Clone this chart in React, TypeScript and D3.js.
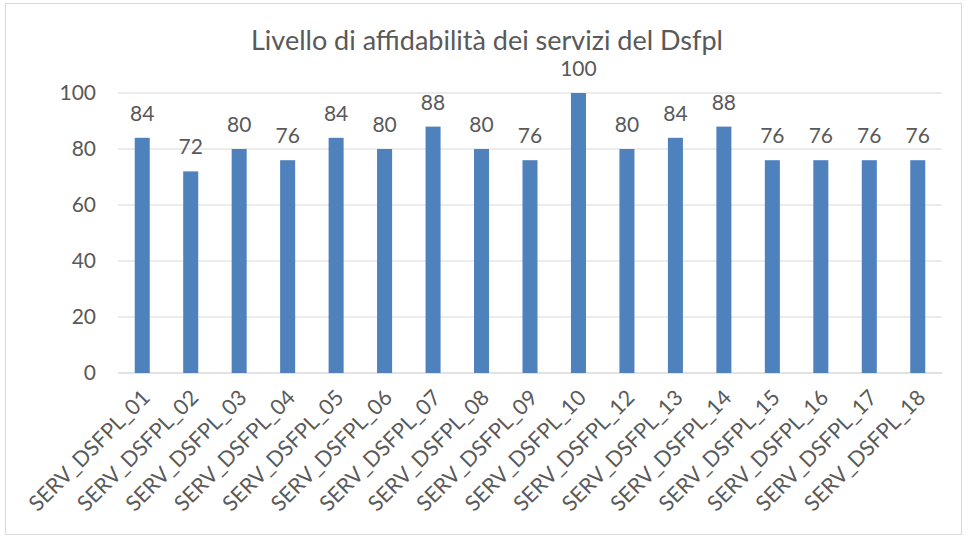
import React from "react";
import * as d3 from "d3";

const categories = [
  "SERV_DSFPL_01", "SERV_DSFPL_02", "SERV_DSFPL_03", "SERV_DSFPL_04", "SERV_DSFPL_05",
  "SERV_DSFPL_06", "SERV_DSFPL_07", "SERV_DSFPL_08", "SERV_DSFPL_09", "SERV_DSFPL_10",
  "SERV_DSFPL_12", "SERV_DSFPL_13", "SERV_DSFPL_14", "SERV_DSFPL_15", "SERV_DSFPL_16",
  "SERV_DSFPL_17", "SERV_DSFPL_18",
];
const values = [84, 72, 80, 76, 84, 80, 88, 80, 76, 100, 80, 84, 88, 76, 76, 76, 76];
const yTicks = [0, 20, 40, 60, 80, 100];
const title = "Livello di affidabilità dei servizi del Dsfpl";

const W = 966;
const H = 536;
const FONT = "Lato, 'Open Sans', sans-serif";
const TEXT = "#595959";

export default function App() {
  const left = 118, right = 942, top = 93, bottom = 373;
  const x = d3.scaleBand<string>().domain(categories).range([left, right]).paddingInner(0.69).paddingOuter(0.345);
  const xc = d3.scaleBand<string>().domain(categories).range([left, right]);
  const y = d3.scaleLinear().domain([0, 100]).range([bottom, top]);

  return (
    <svg width={W} height={H} style={{ position: "absolute", left: 0, top: 0 }}>
      <rect x={0} y={0} width={W} height={H} fill="#fff" />
      <rect x={5.5} y={3.5} width={956} height={531} fill="#fff" stroke="#d9d9d9" strokeWidth={1} />
      <text x={487} y={50} textAnchor="middle" fontFamily={FONT} fontSize={27} fill={TEXT}>{title}</text>
      {yTicks.map((t) => (
        <g key={t}>
          <line x1={left} x2={right} y1={y(t)} y2={y(t)} stroke="#d9d9d9" strokeWidth={t === 0 ? 1.5 : 1.2} />
          <text x={96} y={y(t)} dy="0.35em" textAnchor="end" fontFamily={FONT} fontSize={21} fill={TEXT}>{t}</text>
        </g>
      ))}
      {categories.map((c, i) => (
        <g key={c}>
          <rect x={x(c)!} y={y(values[i])} width={x.bandwidth()} height={y(0) - y(values[i])} fill="#4F81BD" />
          <text x={x(c)! + x.bandwidth() / 2} y={y(values[i]) - 17} textAnchor="middle" fontFamily={FONT} fontSize={21} fill={TEXT}>{values[i]}</text>
          <text
            transform={`translate(${xc(c)! + xc.bandwidth() / 2 + 9},${bottom + 26}) rotate(-45)`}
            textAnchor="end"
            fontFamily={FONT}
            fontSize={21.5}
            fill={TEXT}
          >{c}</text>
        </g>
      ))}
    </svg>
  );
}
